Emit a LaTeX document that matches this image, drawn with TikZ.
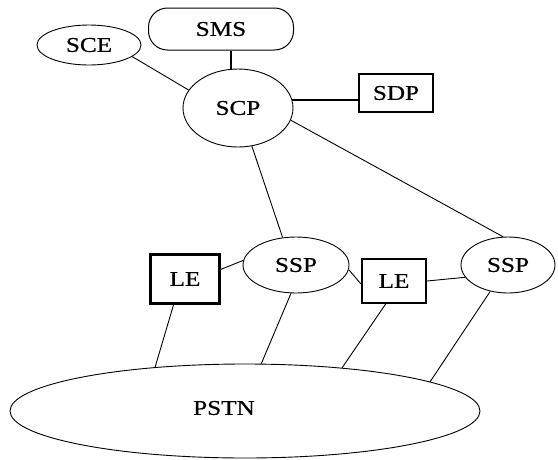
\documentclass[tikz,border=0pt]{standalone}
\usepackage{fontspec}
\setmainfont[FakeStretch=1.2,FakeBold=0.6]{Liberation Serif}
\usetikzlibrary{shapes.geometric}
\tikzset{
  lbl/.style={font=\fontsize{21}{24}\selectfont},
  ell/.style={draw, ellipse, line width=0.9pt, inner sep=0pt, lbl},
  box/.style={draw, rectangle, line width=2.2pt, inner sep=0pt, lbl},
  link/.style={line width=0.9pt},
  heavy/.style={line width=2pt},
}
\begin{document}
\begin{tikzpicture}[x=1pt,y=-1pt]
\useasboundingbox (0,0) rectangle (558,459);
% nodes
\node[ell, minimum width=104pt, minimum height=40pt] (sce) at (89,45) {SCE};
\node[draw, rectangle, rounded corners=19pt, line width=1pt, inner sep=0pt,
      minimum width=145pt, minimum height=42pt, lbl] (sms) at (221,29) {SMS};
\node[ell, minimum width=110pt, minimum height=78pt] (scp) at (238,108) {SCP};
\node[box, minimum width=74pt, minimum height=38pt] (sdp) at (396,93) {SDP};
\node[box, minimum width=69pt, minimum height=49pt] (le1) at (185,279) {LE};
\node[ell, minimum width=106pt, minimum height=56pt] (ssp1) at (296,265) {SSP};
\node[box, minimum width=64pt, minimum height=44pt] (le2) at (394,281) {LE};
\node[ell, minimum width=94pt, minimum height=56pt] (ssp2) at (508,265) {SSP};
\node[ell, minimum width=470pt, minimum height=94pt] (pstn) at (245,411) {};
\node[lbl, inner sep=0pt] (pstntext) at (224,408) {PSTN};
% connectors
\draw[link] (sce.-15) -- (scp.160);
\draw[heavy] (scp.100) -- (scp.100 |- sms.south);
\draw[heavy] (scp.8) -- (scp.8 -| sdp.west);
\draw[link] (scp.-70) -- (ssp1.116);
\draw[link] (scp.-13.5) -- (ssp2.100);
\draw[link] (le1.15) -- (ssp1.175);
\draw[link] (ssp1.-5) -- (le2.185);
\draw[link] (le2.east) -- (ssp2.196);
\draw[link] (le1.246) -- (pstn.154.6);
\draw[link] (ssp1.260) -- (pstn.71);
\draw[link] (le2.250) -- (pstn.24);
\draw[link] (ssp2.236) -- (pstn.9.6);
\end{tikzpicture}
\end{document}
